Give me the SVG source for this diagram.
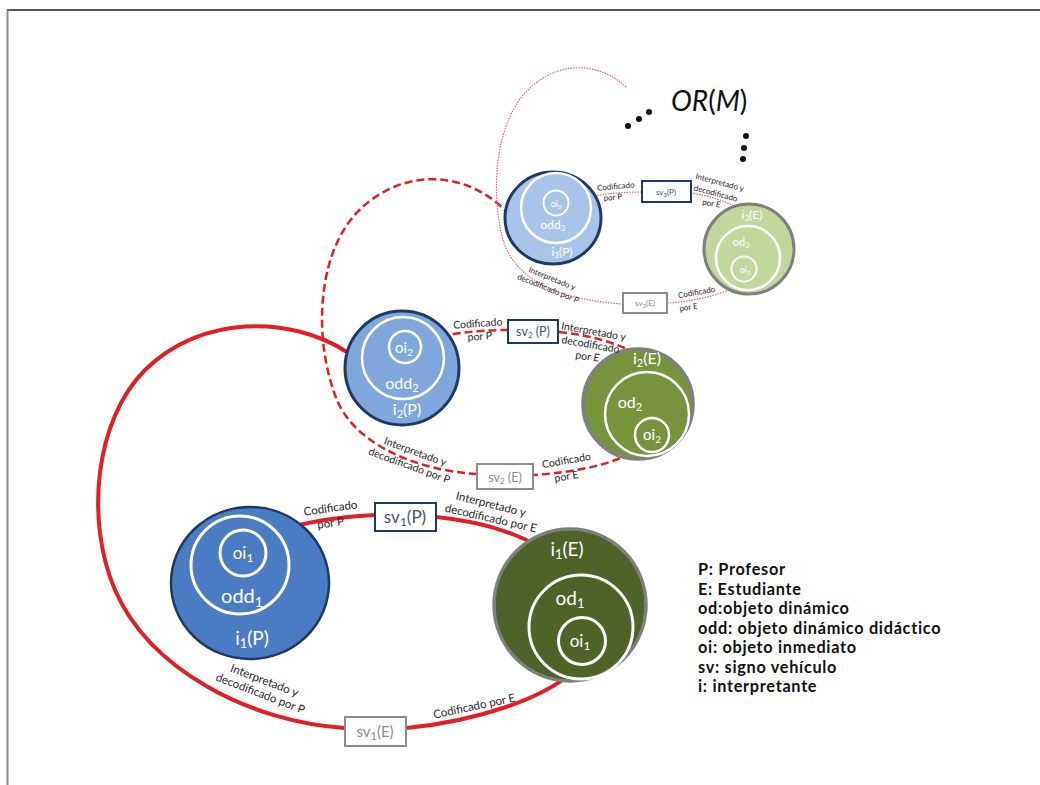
<svg xmlns="http://www.w3.org/2000/svg" width="1040" height="785" viewBox="0 0 1040 785">
<defs>
<style>
text{font-family:Lato,"Open Sans","Liberation Sans",sans-serif}
.w{fill:#ffffff;text-anchor:middle}
.ring{fill:none;stroke:#ffffff}
.lbl{fill:#262626;text-anchor:middle}
.l1{font-size:11.5px}
.l2{font-size:10.5px}
.l3{font-size:8px}
.bxP{fill:#ffffff;stroke:#1f3864}
.bxE{fill:#ffffff;stroke:#8c8c8c}
.tP{fill:#44546a;text-anchor:middle}
.tE{fill:#8c8c8c;text-anchor:middle}
.c1{fill:none;stroke:#e41e26;stroke-width:4}
.c2{fill:none;stroke:#e41e26;stroke-width:2.5;stroke-dasharray:8 4}
.c3{fill:none;stroke:#e8606a;stroke-width:1.2;stroke-dasharray:1.5 1.2}
.leg{font-family:Lato,"Liberation Sans",sans-serif;font-weight:700;font-size:16.3px;letter-spacing:0.7px;fill:#111111}
</style>
</defs>
<rect width="1040" height="785" fill="#ffffff"/>
<g id="frame">
<line x1="7" y1="10" x2="1040" y2="10" stroke="#555555" stroke-width="2"/>
<line x1="7.5" y1="10" x2="7.5" y2="785" stroke="#8a8a8a" stroke-width="2"/>
</g>

<g id="connectors">
<!-- level 1 solid -->
<path class="c1" d="M258,537 Q310,518 375,515"/>
<path class="c1" d="M436,517 C490,522 545,540 578,577"/>
<path class="c1" d="M583,662 C550,700 470,722 406,728"/>
<path class="c1" d="M345,728 C250,722 150,670 115,590 C85,520 95,420 145,370 C200,315 290,315 347,352"/>
<!-- level 2 dashed -->
<path class="c2" d="M418,343 Q455,330 508,330"/>
<path class="c2" d="M559,332 C600,336 640,350 664,372"/>
<path class="c2" d="M641,447 C615,465 575,472 534,475"/>
<path class="c2" d="M477,474 C410,470 350,440 335,395 C315,340 318,270 345,228 C375,180 450,155 507,212"/>
<!-- level 3 dotted -->
<path class="c3" d="M571,202 Q600,192 642,192"/>
<path class="c3" d="M691,193 C720,197 750,210 768,232"/>
<path class="c3" d="M744,283 C720,296 690,302 667,303"/>
<path class="c3" d="M623,304 C560,300 515,280 503,240 C490,190 495,120 530,88 C560,60 600,62 627,88"/>
</g>

<!-- Level 3 -->
<g id="i3P">
<ellipse cx="553" cy="218" rx="48" ry="46" fill="#a9c4e8" stroke="#1f3864" stroke-width="3"/>
<circle class="ring" cx="556" cy="208" r="35" stroke-width="2.5"/>
<circle class="ring" cx="556" cy="203" r="12.5" stroke-width="2"/>
<text class="w" x="556" y="207" font-size="9">oi<tspan font-size="6" baseline-shift="-25%">3</tspan></text>
<text class="w" x="553" y="229" font-size="12">odd<tspan font-size="8" baseline-shift="-25%">3</tspan></text>
<text class="w" x="562" y="256" font-size="12">i<tspan font-size="8" baseline-shift="-25%">3</tspan>(P)</text>
</g>
<g id="sv3P">
<rect class="bxP" x="642" y="181" width="49" height="21" stroke-width="2"/>
<text class="tP" x="666" y="195" font-size="8">sv<tspan font-size="6" baseline-shift="-25%">3</tspan>(P)</text>
</g>
<g id="i3E">
<circle cx="749" cy="249" r="45" fill="#c3d69b" stroke="#7f7f7f" stroke-width="3"/>
<circle class="ring" cx="748" cy="258" r="32" stroke-width="2.5"/>
<circle class="ring" cx="744" cy="269" r="12.5" stroke-width="2"/>
<text class="w" x="752" y="219" font-size="12">i<tspan font-size="8" baseline-shift="-25%">3</tspan>(E)</text>
<text class="w" x="741" y="246" font-size="11">od<tspan font-size="7" baseline-shift="-25%">3</tspan></text>
<text class="w" x="745" y="273" font-size="9">oi<tspan font-size="6" baseline-shift="-25%">3</tspan></text>
</g>
<g id="sv3E">
<rect class="bxE" x="623" y="293" width="44" height="20" stroke-width="2"/>
<text class="tE" x="645" y="306" font-size="8">sv<tspan font-size="6" baseline-shift="-25%">3</tspan>(E)</text>
</g>
<g id="labels3">
<g class="lbl l3">
<text transform="translate(616,189) rotate(-5)">Codificado</text>
<text transform="translate(613,200) rotate(-5)">por P</text>
<text transform="translate(719,185) rotate(15)">Interpretado y</text>
<text transform="translate(715,196) rotate(15)">decodificado</text>
<text transform="translate(711,206) rotate(10)">por E</text>
<text transform="translate(551,281) rotate(22)">Interpretado y</text>
<text transform="translate(547,291) rotate(22)">decodificado por P</text>
<text transform="translate(697,295) rotate(-10)">Codificado</text>
<text transform="translate(689,310) rotate(-10)">por E</text>
</g>
</g>

<!-- Level 2 -->
<g id="i2P">
<circle cx="402" cy="368" r="57" fill="#7fa7dd" stroke="#1f3864" stroke-width="3"/>
<circle class="ring" cx="403" cy="358" r="41" stroke-width="2.5"/>
<circle class="ring" cx="405" cy="347" r="16" stroke-width="2.5"/>
<text class="w" x="404" y="353" font-size="15">oi<tspan font-size="10" baseline-shift="-25%">2</tspan></text>
<text class="w" x="402" y="389" font-size="16">odd<tspan font-size="11" baseline-shift="-25%">2</tspan></text>
<text class="w" x="407" y="415" font-size="16">i<tspan font-size="11" baseline-shift="-25%">2</tspan>(P)</text>
</g>
<g id="sv2P">
<rect class="bxP" x="508" y="320" width="50" height="23" stroke-width="2"/>
<text class="tP" x="533" y="336" font-size="12.5">sv<tspan font-size="8" baseline-shift="-20%">2</tspan> (P)</text>
</g>
<g id="i2E">
<circle cx="638" cy="404" r="55" fill="#77933c" stroke="#7f7f7f" stroke-width="3.5"/>
<circle class="ring" cx="647" cy="414" r="42" stroke-width="2.5"/>
<circle class="ring" cx="652" cy="435" r="17" stroke-width="2.5"/>
<text class="w" x="647" y="364" font-size="16">i<tspan font-size="11" baseline-shift="-25%">2</tspan>(E)</text>
<text class="w" x="630" y="408" font-size="16">od<tspan font-size="11" baseline-shift="-25%">2</tspan></text>
<text class="w" x="652" y="440" font-size="15">oi<tspan font-size="10" baseline-shift="-25%">2</tspan></text>
</g>
<g id="sv2E">
<rect class="bxE" x="477" y="464" width="56" height="25" stroke-width="2"/>
<text class="tE" x="505" y="482" font-size="12.5">sv<tspan font-size="8" baseline-shift="-20%">2</tspan> (E)</text>
</g>
<g id="labels2">
<g class="lbl l2">
<text transform="translate(478,327) rotate(-4)">Codificado</text>
<text transform="translate(480,340) rotate(-4)">por P</text>
<text transform="translate(593,335) rotate(10)">Interpretado y</text>
<text transform="translate(590,348) rotate(10)">decodificado</text>
<text transform="translate(587,360) rotate(8)">por E</text>
<text transform="translate(414,455) rotate(20)">Interpretado y</text>
<text transform="translate(408,469) rotate(20)">decodificado por P</text>
<text transform="translate(567,464) rotate(-10)">Codificado</text>
<text transform="translate(567,480) rotate(-10)">por E</text>
</g>
</g>

<!-- Level 1 -->
<g id="i1P">
<ellipse cx="250" cy="583" rx="79" ry="76" fill="#4a7cc4" stroke="#1f3864" stroke-width="2.5"/>
<circle class="ring" cx="240" cy="565" r="49" stroke-width="3"/>
<circle class="ring" cx="243" cy="553" r="23" stroke-width="3"/>
<text class="w" x="243" y="559" font-size="17">oi<tspan font-size="12" baseline-shift="-25%">1</tspan></text>
<text class="w" x="242" y="603" font-size="20">odd<tspan font-size="14" baseline-shift="-25%">1</tspan></text>
<text class="w" x="252" y="645" font-size="19">i<tspan font-size="13" baseline-shift="-25%">1</tspan>(P)</text>
</g>
<g id="sv1P">
<rect class="bxP" x="375" y="503" width="61" height="28" stroke-width="2"/>
<text class="tP" x="405" y="523" font-size="17">sv<tspan font-size="12" baseline-shift="-25%">1</tspan>(P)</text>
</g>
<g id="i1E">
<circle cx="570" cy="605" r="76" fill="#4f6228" stroke="#7f7f7f" stroke-width="3.5"/>
<circle class="ring" cx="581" cy="627" r="52" stroke-width="3"/>
<circle class="ring" cx="582" cy="641" r="23.5" stroke-width="3"/>
<text class="w" x="567" y="556" font-size="19">i<tspan font-size="13" baseline-shift="-25%">1</tspan>(E)</text>
<text class="w" x="570" y="605" font-size="19">od<tspan font-size="13" baseline-shift="-25%">1</tspan></text>
<text class="w" x="580" y="647" font-size="17">oi<tspan font-size="12" baseline-shift="-25%">1</tspan></text>
</g>
<g id="sv1E">
<rect class="bxE" x="345" y="717" width="61" height="29" stroke-width="2"/>
<text class="tE" x="375" y="737" font-size="15">sv<tspan font-size="11" baseline-shift="-25%">1</tspan>(E)</text>
</g>
<g id="labels1">
<g class="lbl l1">
<text transform="translate(331,512) rotate(-8)">Codificado</text>
<text transform="translate(331,527) rotate(-8)">por P</text>
<text transform="translate(490,508) rotate(14)">Interpretado y</text>
<text transform="translate(490,522) rotate(13)">decodificado por E</text>
<text transform="translate(263,684) rotate(21)">Interpretado y</text>
<text transform="translate(259,697) rotate(21)">decodificado por P</text>
<text transform="translate(475,710) rotate(-12)">Codificado por E</text>
</g>
</g>

<g id="title">
<text x="671" y="111" font-size="28" fill="#111111" font-style="italic">OR<tspan font-style="normal">(</tspan>M<tspan font-style="normal">)</tspan></text>
<circle cx="628" cy="126" r="3" fill="#111111"/>
<circle cx="639" cy="119" r="3" fill="#111111"/>
<circle cx="649" cy="112" r="3" fill="#111111"/>
<circle cx="746" cy="136" r="3" fill="#111111"/>
<circle cx="744" cy="148" r="3" fill="#111111"/>
<circle cx="743" cy="159" r="3" fill="#111111"/>
</g>

<g id="legend">
<text class="leg" x="698" y="575">P: Profesor</text>
<text class="leg" x="698" y="594.5">E: Estudiante</text>
<text class="leg" x="698" y="614">od:objeto dinámico</text>
<text class="leg" x="698" y="633.5">odd: objeto dinámico didáctico</text>
<text class="leg" x="698" y="653">oi: objeto inmediato</text>
<text class="leg" x="698" y="672.5">sv: signo vehículo</text>
<text class="leg" x="698" y="692">i: interpretante</text>
</g>
</svg>
